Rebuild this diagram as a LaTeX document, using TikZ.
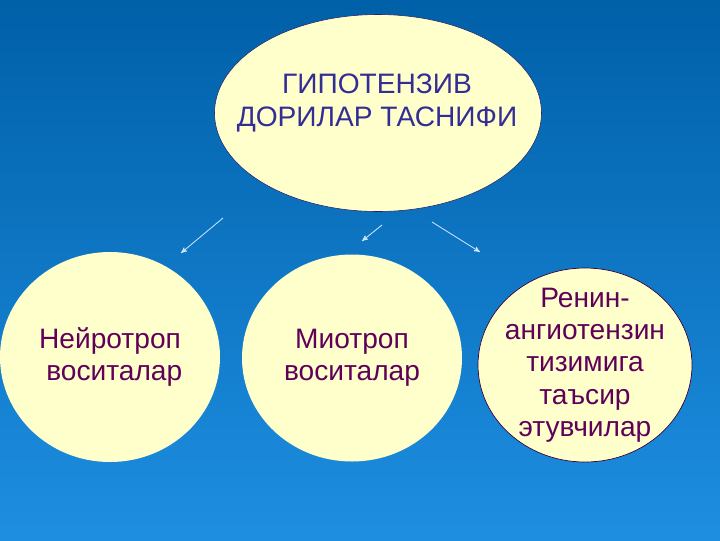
\documentclass[tikz,border=0pt]{standalone}
\usepackage{fontspec}
\setmainfont{Liberation Sans}
\usetikzlibrary{arrows,shapes.geometric}

\definecolor{bgtop}{RGB}{0,96,168}
\definecolor{bgbottom}{RGB}{30,142,225}
\definecolor{paleyellow}{RGB}{255,255,204}
\definecolor{titleblue}{RGB}{51,45,150}
\definecolor{plumtext}{RGB}{96,0,90}
\definecolor{arrowblue}{RGB}{205,228,255}

\begin{document}
\begin{tikzpicture}[x=0.025cm,y=-0.025cm,>=stealth',
  oval node/.style={ellipse,fill=paleyellow,inner sep=-20pt,align=center,
    text=plumtext,font=\fontsize{20}{22.5}\selectfont},
  title node/.style={align=center,text=titleblue,font=\fontsize{20}{24}\selectfont},
  arrow line/.style={->,draw=arrowblue,line width=0.6pt}]

  % background
  \shade[top color=bgtop,bottom color=bgbottom] (0,0) rectangle (720,540);

  \node[oval node,draw=titleblue!70!black,line width=0.4pt,
    minimum width=327*0.025cm,minimum height=197*0.025cm] (top) at (378,113) {};
  \node[title node] (title) at (377,103) {ГИПОТЕНЗИВ\\ДОРИЛАР ТАСНИФИ};

  \node[oval node,minimum width=220*0.025cm,minimum height=210*0.025cm]
    (neuro) at (110,357) {Нейротроп\\\hspace*{6pt}воситалар};
  \node[oval node,minimum width=220*0.025cm,minimum height=207*0.025cm]
    (myo) at (352,358) {Миотроп\\воситалар};
  \node[oval node,draw=plumtext!60!black,line width=0.5pt,
    minimum width=214*0.025cm,minimum height=194*0.025cm,
    font=\fontsize{20}{23}\selectfont]
    (renin) at (585,365) {Ренин-\\ангиотензин\\тизимига\\таъсир\\этувчилар};

  \coordinate (a1) at (223,218);
  \coordinate (b1) at (181,253);
  \coordinate (a2) at (382,225);
  \coordinate (b2) at (362,241);
  \coordinate (a3) at (432,222);
  \coordinate (b3) at (480,252);

  \draw[arrow line] (a1) -- (b1);
  \draw[arrow line] (a2) -- (b2);
  \draw[arrow line] (a3) -- (b3);
\end{tikzpicture}
\end{document}
